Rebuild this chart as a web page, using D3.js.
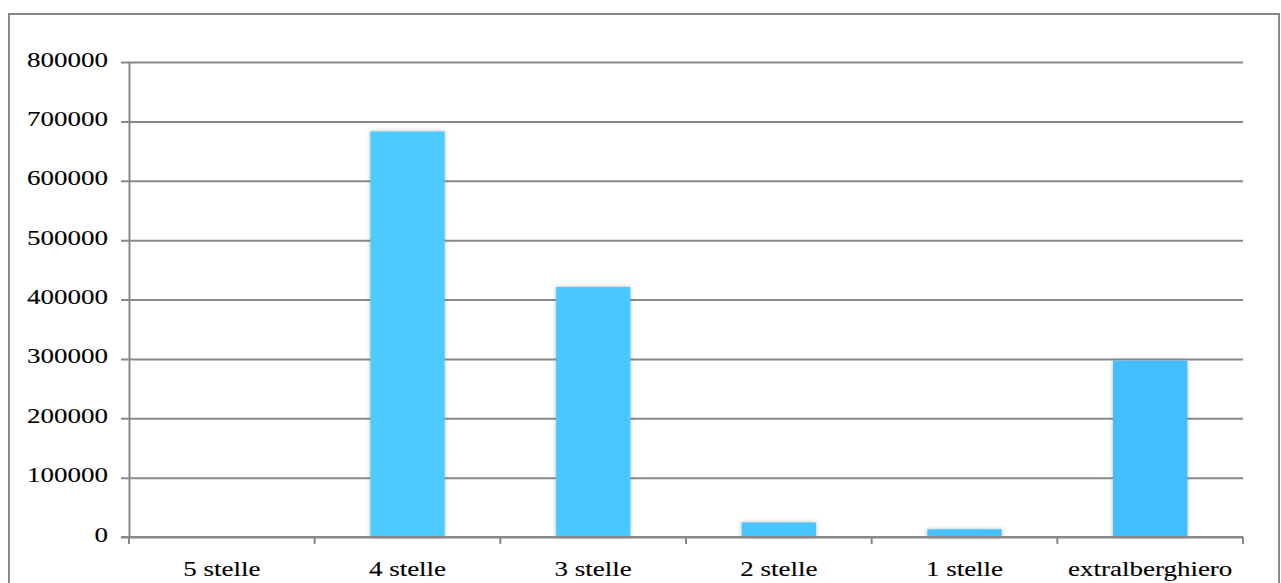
<!DOCTYPE html>
<html>
<head>
<meta charset="utf-8">
<script src="https://cdn.jsdelivr.net/npm/d3@7/dist/d3.min.js"></script>
<style>
  html, body { margin: 0; padding: 0; background: #fff; }
  svg { display: block; }
  text { font-family: "Liberation Serif", "Times New Roman", serif; fill: #000; stroke: #000; stroke-width: 0.12px; }
</style>
</head>
<body>
<svg id="chart" width="1281" height="583"></svg>
<script>
// Presenze per categoria di struttura ricettiva
const categories = ["5 stelle", "4 stelle", "3 stelle", "2 stelle", "1 stelle", "extralberghiero"];
const presenze   = [0, 683000, 421000, 24500, 13000, 297000];
const yTicks     = [0, 100000, 200000, 300000, 400000, 500000, 600000, 700000, 800000];

const svg = d3.select("#chart");
const plotLeft = 129, plotRight = 1243, plotTop = 62, plotBottom = 537;
const gridColor = "#888888";
const textStretch = "scale(1.35,1)";

// outer frame
svg.append("rect")
  .attr("x", 9).attr("y", 14)
  .attr("width", 1270).attr("height", 600)
  .attr("fill", "none").attr("stroke", gridColor).attr("stroke-width", 2);

const x = d3.scaleBand()
  .domain(categories)
  .range([plotLeft, plotRight])
  .paddingInner(0.6)
  .paddingOuter(0.3);

const y = d3.scaleLinear()
  .domain([0, 800000])
  .range([plotBottom, plotTop]);

const defs = svg.append("defs");
const grad = defs.append("linearGradient")
  .attr("id", "barFill")
  .attr("gradientUnits", "userSpaceOnUse")
  .attr("x1", plotLeft).attr("y1", 0).attr("x2", plotRight).attr("y2", 0);
grad.append("stop").attr("offset", "0%").attr("stop-color", "#53CFFF");
grad.append("stop").attr("offset", "100%").attr("stop-color", "#40BDFF");

const shadow = defs.append("filter")
  .attr("id", "barShadow")
  .attr("x", "-30%").attr("y", "-30%").attr("width", "160%").attr("height", "160%");
shadow.append("feDropShadow")
  .attr("dx", 0).attr("dy", 0).attr("stdDeviation", 2)
  .attr("flood-color", "#7a7a7a").attr("flood-opacity", 0.55);

// y axis with gridlines
const yAxis = svg.append("g")
  .attr("transform", `translate(${plotLeft},0)`)
  .call(d3.axisLeft(y).tickValues(yTicks).tickFormat(d3.format("d")).tickSizeOuter(0));
yAxis.attr("font-family", null);
yAxis.select(".domain").attr("stroke", gridColor).attr("stroke-width", 2);
yAxis.selectAll(".tick line")
  .attr("x1", -8).attr("x2", plotRight - plotLeft)
  .attr("stroke", gridColor).attr("stroke-width", 2);
yAxis.selectAll(".tick text")
  .attr("x", null).attr("dy", null)
  .attr("transform", `translate(-21,4) ${textStretch}`)
  .attr("text-anchor", "end")
  .style("font-size", "20px");

// bars
svg.append("g").selectAll("rect")
  .data(categories)
  .join("rect")
  .attr("x", d => x(d))
  .attr("width", x.bandwidth())
  .attr("y", (d, i) => y(presenze[i]))
  .attr("height", (d, i) => y(0) - y(presenze[i]))
  .attr("fill", "url(#barFill)")
  .attr("filter", "url(#barShadow)");

// x axis: baseline redrawn over the bars, ticks on category boundaries
svg.append("line")
  .attr("x1", plotLeft - 8).attr("x2", plotRight)
  .attr("y1", y(0)).attr("y2", y(0))
  .attr("stroke", gridColor).attr("stroke-width", 2);

const step = x.step();
const boundaries = categories.map(d => x(d) - x.paddingOuter() * step)
  .concat([x(categories[categories.length - 1]) - x.paddingOuter() * step + step]);
svg.append("g").selectAll("line")
  .data(boundaries)
  .join("line")
  .attr("x1", d => d).attr("x2", d => d)
  .attr("y1", y(0)).attr("y2", y(0) + 7)
  .attr("stroke", gridColor).attr("stroke-width", 2);

svg.append("g").selectAll("text")
  .data(categories)
  .join("text")
  .attr("transform", d => `translate(${x(d) + x.bandwidth() / 2},${y(0) + 39}) ${textStretch}`)
  .attr("text-anchor", "middle")
  .style("font-size", "20px")
  .text(d => d);
</script>
</body>
</html>
